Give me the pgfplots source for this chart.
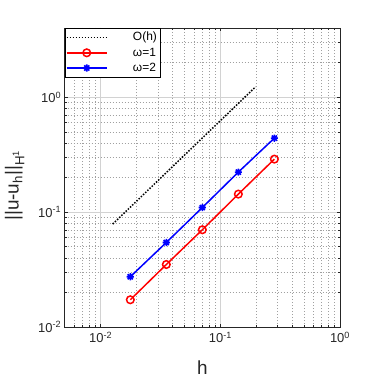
\documentclass[border=0pt]{standalone}
\usepackage{pgfplots}
\pgfplotsset{compat=1.18}
\usepackage{fontspec}
\setmainfont{Liberation Sans}
\definecolor{axgray}{RGB}{38,38,38}
\definecolor{gridgray}{RGB}{210,210,210}
\definecolor{mgrid}{RGB}{160,160,160}
% MATLAB-style '*' marker: a plus and a cross
\pgfdeclareplotmark{mast}{%
  \pgfpathmoveto{\pgfqpoint{-\pgfplotmarksize}{0pt}}\pgfpathlineto{\pgfqpoint{\pgfplotmarksize}{0pt}}%
  \pgfpathmoveto{\pgfqpoint{0pt}{-\pgfplotmarksize}}\pgfpathlineto{\pgfqpoint{0pt}{\pgfplotmarksize}}%
  \pgfpathmoveto{\pgfqpoint{-0.707\pgfplotmarksize}{-0.707\pgfplotmarksize}}\pgfpathlineto{\pgfqpoint{0.707\pgfplotmarksize}{0.707\pgfplotmarksize}}%
  \pgfpathmoveto{\pgfqpoint{-0.707\pgfplotmarksize}{0.707\pgfplotmarksize}}\pgfpathlineto{\pgfqpoint{0.707\pgfplotmarksize}{-0.707\pgfplotmarksize}}%
  \pgfusepathqstroke}
\newcommand{\legtext}[1]{\hspace{24bp}\makebox[25bp][l]{#1}}

\begin{document}
\begin{tikzpicture}
\useasboundingbox (-64.7bp,-50bp) rectangle (312.3bp,327bp);
\begin{axis}[
    at={(0,0)}, anchor=south west,
    scale only axis,
    width=275.3bp, height=299bp,
    xmode=log, ymode=log,
    xmin=0.005, xmax=1,
    ymin=0.01, ymax=4,
    xtick={0.01,0.1,1},
    xticklabels={10\textsuperscript{-2},10\textsuperscript{-1},10\textsuperscript{0}},
    ytick={0.01,0.1,1},
    yticklabels={10\textsuperscript{-2},10\textsuperscript{-1},10\textsuperscript{0}},
    minor xtick={0.005,0.006,0.007,0.008,0.009,0.02,0.03,0.04,0.05,0.06,0.07,0.08,0.09,0.2,0.3,0.4,0.5,0.6,0.7,0.8,0.9},
    minor ytick={0.02,0.03,0.04,0.05,0.06,0.07,0.08,0.09,0.2,0.3,0.4,0.5,0.6,0.7,0.8,0.9,2,3,4},
    tick align=inside,
    major tick length=3bp, minor tick length=2bp,
    tick style={axgray, line width=0.5bp},
    axis line style={axgray, line width=0.6bp},
    grid=both,
    major grid style={gridgray, line width=0.6bp},
    minor grid style={mgrid, line width=0.5bp, dash pattern=on 0.6bp off 2.4bp},
    tick label style={font=\fontsize{13}{14}\selectfont, text=axgray},
    xticklabel style={yshift=-1.5bp},
    xlabel={h},
    ylabel={||u-u\textsubscript{h}||\textsubscript{H\textsuperscript{1}}},
    every axis x label/.style={at={(axis description cs:0.5,0)}, anchor=base, yshift=-47bp,
        font=\fontsize{19}{21}\selectfont, text=axgray},
    every axis y label/.style={at={(axis description cs:0,0.5)}, xshift=-46bp, yshift=-8bp, rotate=90, anchor=base,
        font=\fontsize{19}{21}\selectfont, text=axgray},
    legend style={at={(0,1)}, anchor=north west, draw=black, line width=0.6bp,
        font=\fontsize{12}{13}\selectfont,
        inner xsep=1bp, inner ysep=2bp, row sep=1.5bp, column sep=0bp,
        nodes={inner xsep=1.5bp}, cells={anchor=west}},
    legend cell align=left,
    legend image code/.code={
        \draw[#1, mark repeat=2, mark phase=2, x=1bp, y=1bp] plot coordinates {(0,0) (20,0) (40,0)};
    },
]
\addplot[black, line width=1.5bp, dash pattern=on 1.5bp off 1.5bp] coordinates {(0.0126,0.0787) (0.197,1.23)};
\addlegendentry{\legtext{O(h)}}
\addplot[red, line width=1.5bp, mark=o, mark size=3.8bp] coordinates {
    (0.01768,0.01726) (0.03536,0.0350) (0.07071,0.0702) (0.1414,0.1434) (0.2828,0.289)};
\addlegendentry{\legtext{ω=1}}
\addplot[blue, line width=1.5bp, mark=mast, mark size=3.6bp, mark options={line width=1.6bp}] coordinates {
    (0.01768,0.02738) (0.03536,0.0544) (0.07071,0.1096) (0.1414,0.2228) (0.2828,0.440)};
\addlegendentry{\legtext{ω=2}}
\end{axis}
\end{tikzpicture}
\end{document}
